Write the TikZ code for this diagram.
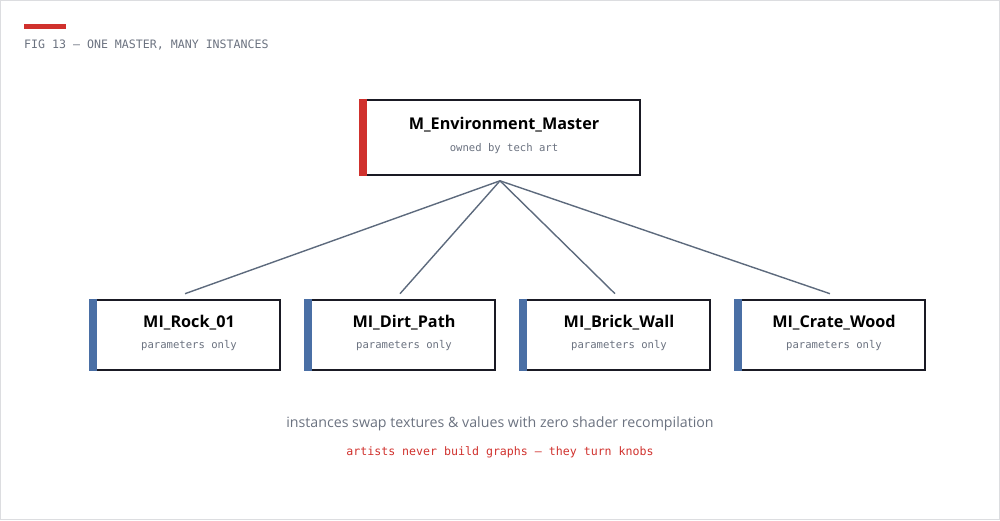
\documentclass[tikz,border=0pt]{standalone}
\usepackage{fontspec}
\setmainfont{Open Sans}
\newfontfamily\monof{DejaVu Sans Mono}
\newfontfamily\sansf{Open Sans}
\definecolor{accred}{HTML}{D0312D}
\definecolor{accblue}{HTML}{4A6FA5}
\definecolor{boxline}{HTML}{1A1A24}
\definecolor{subgray}{HTML}{6B7280}
\definecolor{linkc}{HTML}{5D6A7D}
\definecolor{frame}{HTML}{DCDDE0}
\tikzset{
  master/.style={draw=boxline, line width=1.6pt, fill=white, minimum width=280pt, minimum height=75pt, inner sep=0pt},
  inst/.style={draw=boxline, line width=1.6pt, fill=white, minimum width=190pt, minimum height=70pt, inner sep=0pt},
  ttl/.style={font=\sansf\bfseries\fontsize{16.2}{18}\selectfont, text=black, inner sep=0pt, anchor=center},
  sub/.style={font=\monof\fontsize{10.6}{12}\selectfont, text=subgray, inner sep=0pt, anchor=center},
  link/.style={draw=linkc, line width=1.4pt},
}
\begin{document}
\begin{tikzpicture}[x=1pt,y=-1pt]
\useasboundingbox (0,0) rectangle (1000,520);
\draw[frame, line width=1pt] (0.5,0.5) rectangle (999.5,519.5);
% header
\fill[accred] (24,24) rectangle (66,28.5);
\node[font=\monof\fontsize{11.6}{13}\selectfont, text=subgray, anchor=west, inner sep=0pt] (hdr) at (24,45) {FIG 13 — ONE MASTER, MANY INSTANCES};
% master
\node[master] (m) at (500,137.5) {};
\fill[accred] (m.north west) rectangle ([xshift=8pt]m.south west);
\node[ttl] (mt) at (504,124.5) {M\_Environment\_Master};
\node[sub] (ms) at (504,148.5) {owned by tech art};
% instances
\foreach \n/\cx/\t in {r/185/MI\_Rock\_01, d/400/MI\_Dirt\_Path, b/615/MI\_Brick\_Wall, c/830/MI\_Crate\_Wood}{
  \node[inst] (\n) at (\cx,335) {};
  \fill[accblue] (\n.north west) rectangle ([xshift=8pt]\n.south west);
  \node[ttl] (\n t) at (\cx+4,322.5) {\t};
  \node[sub] (\n s) at (\cx+4,345.5) {parameters only};
}
\coordinate (src) at ([yshift=-5pt]m.south);
\foreach \n in {r,d,b,c}{
  \draw[link] (src) -- ([yshift=5.5pt]\n.north);
}
% footer
\node[font=\sansf\fontsize{14.2}{16}\selectfont, text=subgray, inner sep=0pt] (f1) at (500,423.5) {instances swap textures \& values with zero shader recompilation};
\node[font=\monof\fontsize{11.6}{13}\selectfont, text=accred, inner sep=0pt] (f2) at (500,452) {artists never build graphs — they turn knobs};
\end{tikzpicture}
\end{document}
